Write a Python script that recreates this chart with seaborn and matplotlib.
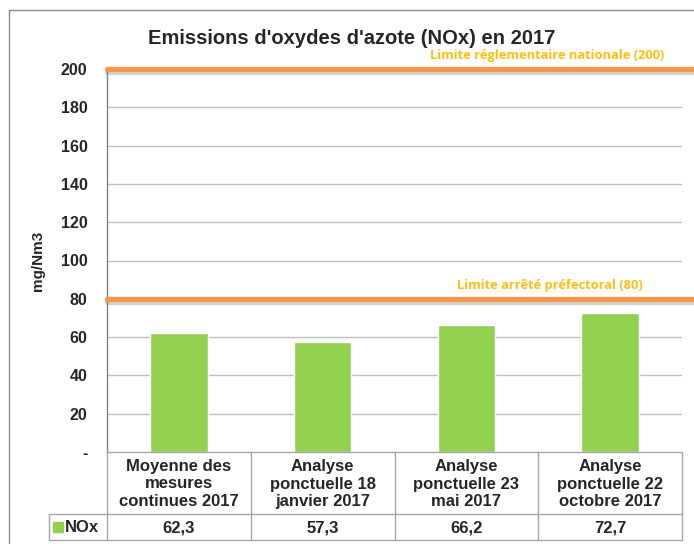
"""
NOx emissions 2017 - bar chart with regulatory limits and data table below.
"""

import matplotlib
matplotlib.use("Agg")
import matplotlib.pyplot as plt
import matplotlib.patheffects as pe
from matplotlib.lines import Line2D
from matplotlib.patches import Rectangle
import pandas as pd
import seaborn as sns

# === 1. Data ===
categories = [
    "Moyenne des\nmesures\ncontinues 2017",
    "Analyse\nponctuelle 18\njanvier 2017",
    "Analyse\nponctuelle 23\nmai 2017",
    "Analyse\nponctuelle 22\noctobre 2017",
]
nox_values = [62.3, 57.3, 66.2, 72.7]
value_labels = ["62,3", "57,3", "66,2", "72,7"]
series_name = "NOx"
yticks = [0, 20, 40, 60, 80, 100, 120, 140, 160, 180, 200]
ytick_labels = ["-", "20", "40", "60", "80", "100", "120", "140", "160", "180", "200"]
limit_values = [200, 80]
limit_labels = ["Limite réglementaire nationale (200)", "Limite arrêté préfectoral (80)"]

df = pd.DataFrame({"cat": categories, "val": nox_values})

# === 2. Style ===
sns.set_style("white")
plt.rcParams["font.family"] = ["Liberation Sans", "DejaVu Sans"]

bar_green = "#92D050"
line_orange = "#F79646"
text_gold = "#FFBE0F"
grid_grey = "#BFBFBF"
table_grey = "#A6A6A6"

W, H = 694, 544
fig = plt.figure(figsize=(W / 100, H / 100), dpi=100)
x0, x1 = 107, 682
ytop, ybot = 69, 452
ax = fig.add_axes([x0 / W, 1 - ybot / H, (x1 - x0) / W, (ybot - ytop) / H])

# === 3. Bars ===
sns.barplot(data=df, x="cat", y="val", color=bar_green, width=0.4,
            saturation=1, ax=ax, zorder=3)
ax.set_xlim(-0.5, len(categories) - 0.5)
ax.set_ylim(0, 200)
ax.set_yticks(yticks)
ax.set_yticklabels(ytick_labels, fontsize=11.5, fontweight="bold")
ax.tick_params(axis="y", length=0, pad=14)
ax.set_xticks([])
ax.set_xlabel("")
ax.set_ylabel("mg/Nm3", fontsize=11, fontweight="bold")
ax.yaxis.set_label_coords(-0.107, 0.5)
for v in yticks[1:-1]:
    ax.axhline(v, color=grid_grey, lw=1, zorder=1)
for s in ["top", "right", "bottom"]:
    ax.spines[s].set_visible(False)
ax.spines["left"].set_color("#808080")
ax.spines["left"].set_linewidth(1)

# === 4. Limit lines ===
shadow = [pe.SimpleLineShadow(offset=(0, -2.5), shadow_color="#808080", alpha=0.35),
          pe.Normal()]
for lim in limit_values:
    ax.axhline(lim, xmin=0, xmax=(W - x0) / (x1 - x0), color=line_orange, lw=3.8,
               clip_on=False, zorder=5, path_effects=shadow)
ax.text(3.38, 203.5, limit_labels[0], ha="right", va="bottom", fontsize=9.3,
        fontweight="bold", color=text_gold, family=["Open Sans", "DejaVu Sans"])
ax.text(2.58, 83.5, limit_labels[1], ha="center", va="bottom", fontsize=9.3,
        fontweight="bold", color=text_gold, family=["Open Sans", "DejaVu Sans"])

# === 5. Title ===
fig.text(352 / W, 1 - 38 / H, "Emissions d'oxydes d'azote (NOx) en 2017",
         ha="center", va="center", fontsize=14.5, fontweight="bold")

# === 6. Data table under the axis ===
row_top, row_mid, row_bot = ybot, 514, 540
leg_left = 49
def fy(py):
    return 1 - py / H
def fx(px):
    return px / W

col_edges = [x0 + i * (x1 - x0) / len(categories) for i in range(len(categories) + 1)]
for xe in col_edges:
    fig.add_artist(Line2D([fx(xe), fx(xe)], [fy(row_top), fy(row_bot)], color=table_grey, lw=1))
fig.add_artist(Line2D([fx(leg_left), fx(leg_left)], [fy(row_mid), fy(row_bot)], color=table_grey, lw=1))
fig.add_artist(Line2D([fx(x0), fx(x1)], [fy(row_top), fy(row_top)], color=table_grey, lw=1))
fig.add_artist(Line2D([fx(leg_left), fx(x1)], [fy(row_mid), fy(row_mid)], color=table_grey, lw=1))
fig.add_artist(Line2D([fx(leg_left), fx(x1)], [fy(row_bot), fy(row_bot)], color=table_grey, lw=1))

for i, (cat, lab) in enumerate(zip(categories, value_labels)):
    cx = (col_edges[i] + col_edges[i + 1]) / 2
    fig.text(fx(cx), fy((row_top + row_mid) / 2 + 1), cat, ha="center", va="center",
             fontsize=12, fontweight="bold", linespacing=1.2)
    fig.text(fx(cx), fy((row_mid + row_bot) / 2 + 1), lab, ha="center", va="center",
             fontsize=12, fontweight="bold")

fig.add_artist(Rectangle((fx(53), fy(532)), 10 / W, 10 / H, color=bar_green, transform=fig.transFigure))
fig.text(fx(65), fy(527), series_name, ha="left", va="center", fontsize=12, fontweight="bold")

# === 7. Outer frame ===
fig.add_artist(Line2D([fx(9), fx(9)], [fy(10), fy(H)], color="#8C8C8C", lw=1))
fig.add_artist(Line2D([fx(9), 1.0], [fy(10), fy(10)], color="#8C8C8C", lw=1))

fig.savefig("out.png", dpi=100)
plt.close(fig)
